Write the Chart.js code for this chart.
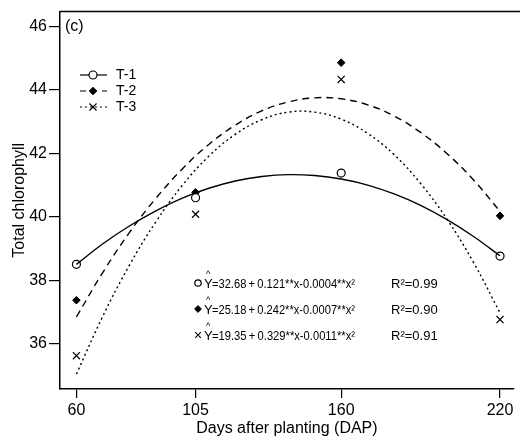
<!DOCTYPE html>
<html>
<head>
<meta charset="utf-8">
<script src="https://cdn.jsdelivr.net/npm/chart.js@4.4.1/dist/chart.umd.min.js"></script>
<style>
    html, body { margin: 0; padding: 0; background: #fff; }
    .chart-box { width: 520px; height: 440px; }
</style>
</head>
<body>
<div class="chart-box"><canvas id="myChart"></canvas></div>
<script>
// observed values
const dap = [60, 105, 160, 220]
const t1 = [38.5, 40.6, 41.38, 38.76]
const t2 = [37.37, 40.77, 44.86, 40.03]
const t3 = [35.62, 40.08, 44.33, 36.76]

// fitted curves, every 10 DAP
const fitDap = [60, 70, 80, 90, 100, 110, 120, 130, 140, 150, 160, 170, 180, 190, 200, 210, 220]
const t1Fit = [38.50, 39.15, 39.71, 40.19, 40.59, 40.90, 41.13, 41.27, 41.33, 41.30, 41.19, 41.00, 40.72, 40.36, 39.91, 39.38, 38.77]
const t2Fit = [36.84, 38.25, 39.50, 40.58, 41.51, 42.28, 42.89, 43.34, 43.62, 43.75, 43.72, 43.53, 43.18, 42.66, 41.99, 41.16, 40.17]
const t3Fit = [35.04, 36.87, 38.47, 39.84, 40.99, 41.91, 42.60, 43.06, 43.30, 43.30, 43.08, 42.63, 41.96, 41.05, 39.92, 38.56, 36.97]

const xTicks = [60, 105, 160, 220]
const yTicks = [36, 38, 40, 42, 44, 46]
const names = ['T-1', 'T-2', 'T-3']
const equations = ['=32.68\u2009+\u20090.121**x-0.0004**x²', '=25.18\u2009+\u20090.242**x-0.0007**x²', '=19.35\u2009+\u20090.329**x-0.0011**x²']
const r2 = ['R²=0.99', 'R²=0.90', 'R²=0.91']

const FONT = "'Liberation Sans', Arial, sans-serif"
const dashes = [[], [7, 5], [2, 3]]
const markers = [
    { pointStyle: 'circle', radius: 4, borderWidth: 1.2, fill: '#fff' },
    { pointStyle: 'rectRot', radius: 3.8, borderWidth: 1, fill: '#000' },
    { pointStyle: 'crossRot', radius: 5, borderWidth: 1.2, fill: '#000' }
]
const smallMarkers = [
    { pointStyle: 'circle', radius: 3.2, borderWidth: 1.2, fill: '#fff' },
    { pointStyle: 'rectRot', radius: 3.4, borderWidth: 1, fill: '#000' },
    { pointStyle: 'crossRot', radius: 4, borderWidth: 1.1, fill: '#000' }
]

const toXY = (xs, ys) => xs.map((x, i) => ({ x: x, y: ys[i] }))

function pointSet(data, m) {
    return {
        data: data,
        showLine: false,
        pointStyle: m.pointStyle,
        pointRadius: m.radius,
        pointBorderWidth: m.borderWidth,
        pointBackgroundColor: m.fill,
        pointBorderColor: '#000'
    }
}

function curveSet(data, dash) {
    return {
        data: data,
        showLine: true,
        pointRadius: 0,
        borderColor: '#000',
        borderWidth: 1.4,
        borderDash: dash,
        tension: 0.4
    }
}

function marker(ctx, m, x, y) {
    ctx.save()
    ctx.setLineDash([])
    ctx.fillStyle = m.fill
    ctx.strokeStyle = '#000'
    ctx.lineWidth = m.borderWidth
    Chart.helpers.drawPoint(ctx, { pointStyle: m.pointStyle, radius: m.radius, rotation: 0, borderWidth: m.borderWidth }, x, y)
    ctx.restore()
}

// text squeezed to a given width, like the narrow face in the figure
function fitText(ctx, text, x, y, width) {
    const w = ctx.measureText(text).width
    ctx.save()
    ctx.translate(x, y)
    ctx.scale(Math.min(1, width / w), 1)
    ctx.fillText(text, 0, 0)
    ctx.restore()
}

const extras = {
    id: 'extras',
    afterDraw(chart) {
        const ctx = chart.ctx
        const a = chart.chartArea
        ctx.save()
        // top of the box
        ctx.strokeStyle = '#000'
        ctx.lineWidth = 1.5
        ctx.beginPath()
        ctx.moveTo(a.left, a.top)
        ctx.lineTo(520, a.top)
        ctx.stroke()

        ctx.fillStyle = '#000'
        ctx.textBaseline = 'middle'
        ctx.font = '16px ' + FONT
        ctx.fillText('(c)', 65, 27)

        // legend
        ctx.font = '14px ' + FONT
        names.forEach((n, i) => {
            const y = 75 + i * 16
            ctx.setLineDash(i === 1 ? [6, 5] : dashes[i])
            ctx.lineWidth = 1.2
            ctx.beginPath()
            ctx.moveTo(80, y)
            ctx.lineTo(107, y)
            ctx.stroke()
            ctx.setLineDash([])
            marker(ctx, markers[i], 93, y)
            ctx.fillText(n, 116, y)
        })

        // equations
        equations.forEach((e, i) => {
            const y = 283 + i * 26
            marker(ctx, smallMarkers[i], 198, y)
            ctx.font = '13px ' + FONT
            ctx.fillText('Y', 204, y + 1)
            ctx.font = '9px ' + FONT
            ctx.fillText('^', 206, y - 8)
            ctx.font = '13px ' + FONT
            fitText(ctx, e, 212, y + 1, 143)
            fitText(ctx, r2[i], 391, y + 1, 65)
        })
        ctx.restore()
    }
}

const ctx = document.getElementById('myChart').getContext('2d')
const myChart = new Chart(ctx, {
    type: 'scatter',
    data: {
        datasets: [
            curveSet(toXY(fitDap, t1Fit), dashes[0]),
            curveSet(toXY(fitDap, t2Fit), dashes[1]),
            curveSet(toXY(fitDap, t3Fit), dashes[2]),
            pointSet(toXY(dap, t1), markers[0]),
            pointSet(toXY(dap, t2), markers[1]),
            pointSet(toXY(dap, t3), markers[2])
        ]
    },
    options: {
        responsive: true,
        maintainAspectRatio: false,
        animation: false,
        layout: { padding: { top: 11, right: 1, left: 0, bottom: 0 } },
        plugins: {
            legend: { display: false },
            tooltip: { enabled: false }
        },
        scales: {
            x: {
                type: 'linear',
                min: 53.8,
                max: 225.2,
                afterBuildTicks: (s) => { s.ticks = xTicks.map(v => ({ value: v })) },
                afterFit: (s) => { s.height = 51 },
                grid: { drawOnChartArea: false, drawTicks: true, tickLength: 9, color: '#000', lineWidth: 1.2 },
                border: { display: true, color: '#000', width: 1.5 },
                ticks: { color: '#000', font: { family: FONT, size: 16 }, padding: 3, maxRotation: 0 },
                title: { display: true, text: 'Days after planting (DAP)', color: '#000', font: { family: FONT, size: 16 }, padding: { top: 0, bottom: 2 } }
            },
            y: {
                type: 'linear',
                min: 34.57,
                max: 46.47,
                afterBuildTicks: (s) => { s.ticks = yTicks.map(v => ({ value: v })) },
                afterFit: (s) => { s.width = 60 },
                grid: { drawOnChartArea: false, drawTicks: true, tickLength: 11, color: '#000', lineWidth: 1.2 },
                border: { display: true, color: '#000', width: 1.5 },
                ticks: { color: '#000', font: { family: FONT, size: 16 }, padding: 2 },
                title: { display: true, text: 'Total chlorophyll', color: '#000', font: { family: FONT, size: 16 }, padding: { top: 10, bottom: 0 } }
            }
        }
    },
    plugins: [extras]
})
</script>
</body>
</html>
